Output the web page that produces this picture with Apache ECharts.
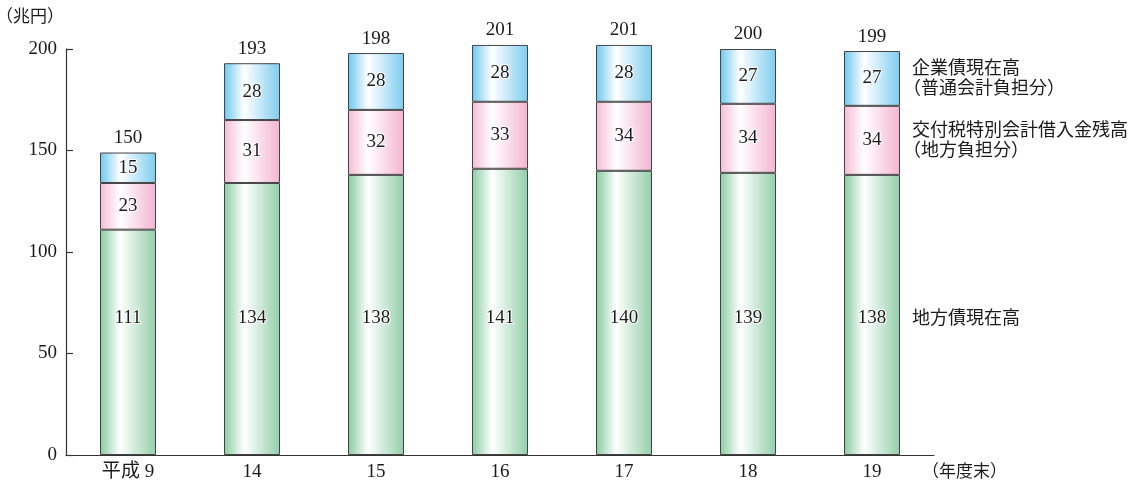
<!DOCTYPE html>
<html>
<head>
<meta charset="utf-8">
<script src="https://cdn.jsdelivr.net/npm/echarts@6/dist/echarts.min.js"></script>
<style>
  html, body { margin: 0; padding: 0; background: #fff; }
  #chart { width: 1140px; height: 480px; }
</style>
</head>
<body>
<div id="chart"></div>
<script>
// 年度末
const years = ['平成 9', '14', '15', '16', '17', '18', '19'];
// 地方債現在高（兆円）
const localBonds = [111, 134, 138, 141, 140, 139, 138];
// 交付税特別会計借入金残高（地方負担分）
const kofuLoans = [23, 31, 32, 33, 34, 34, 34];
// 企業債現在高（普通会計負担分）
const enterpriseBonds = [15, 28, 28, 28, 28, 27, 27];
// 合計（兆円）
const totals = [150, 193, 198, 201, 201, 200, 199];
// y軸目盛
const yTicks = [0, 50, 100, 150, 200];

const seriesNames = ['地方債現在高', '交付税特別会計借入金残高\n（地方負担分）', '企業債現在高\n（普通会計負担分）'];

const serif = '"Liberation Serif", "Noto Sans CJK JP", serif';
const ink = '#1a1a1a';
const numSize = 19;
// 地方債の数値は棒の下端から一定の高さにそろえて表示する
const bottomLabelDistance = 127;

function barFill(edgeL, edgeR) {
  return new echarts.graphic.LinearGradient(0, 0, 1, 0, [
    { offset: 0, color: edgeL },
    { offset: 0.36, color: '#ffffff' },
    { offset: 1, color: edgeR }
  ]);
}

const segLabel = {
  show: true,
  position: 'inside',
  fontFamily: serif,
  fontSize: numSize,
  color: ink,
  textBorderColor: '#fff',
  textBorderWidth: 2
};

const chart = echarts.init(document.getElementById('chart'), null, { renderer: 'canvas' });

const barCommon = { type: 'bar', stack: 'debt', barWidth: 56, clip: false };

const option = {
  animation: false,
  backgroundColor: '#fff',
  grid: { left: 66, right: 206, top: 49, bottom: 25, containLabel: false, outerBoundsMode: 'none' },
  xAxis: {
    type: 'category',
    data: years,
    boundaryGap: true,
    name: '（年度末）',
    nameLocation: 'end',
    nameGap: 0,
    nameTextStyle: {
      fontFamily: serif, fontSize: 17, color: ink,
      align: 'left', verticalAlign: 'top', padding: [9, 0, 0, -12]
    },
    axisLine: { lineStyle: { color: '#333', width: 1.2 } },
    axisTick: { inside: true, length: 7, lineStyle: { color: '#333', width: 1.2 } },
    axisLabel: { fontFamily: serif, fontSize: numSize, color: ink, margin: 8 }
  },
  yAxis: {
    type: 'value',
    min: yTicks[0],
    max: yTicks[yTicks.length - 1],
    interval: yTicks[1] - yTicks[0],
    name: '（兆円）',
    nameLocation: 'end',
    nameGap: 31,
    nameTextStyle: {
      fontFamily: serif, fontSize: 17, color: ink,
      align: 'right', verticalAlign: 'middle', padding: [0, 2, 0, 0]
    },
    axisLine: { show: true, lineStyle: { color: '#333', width: 1.2 } },
    axisTick: { show: true, inside: true, length: 7, lineStyle: { color: '#333', width: 1.2 } },
    splitLine: { show: false },
    axisLabel: { fontFamily: serif, fontSize: numSize, color: ink, margin: 9 }
  },
  series: [
    Object.assign({}, barCommon, {
      name: seriesNames[0],
      data: localBonds,
      itemStyle: { color: barFill('#88cba0', '#92cfa9'), borderColor: '#444', borderWidth: 1 },
      label: Object.assign({}, segLabel, { position: 'insideBottom', distance: bottomLabelDistance })
    }),
    Object.assign({}, barCommon, {
      name: seriesNames[1],
      data: kofuLoans,
      itemStyle: { color: barFill('#f6bcd7', '#f4b4d1'), borderColor: '#444', borderWidth: 1 },
      label: segLabel
    }),
    Object.assign({}, barCommon, {
      name: seriesNames[2],
      data: enterpriseBonds,
      itemStyle: { color: barFill('#6ec8f0', '#7ccdf0'), borderColor: '#444', borderWidth: 1 },
      label: segLabel
    }),
    Object.assign({}, barCommon, {
      // 合計ラベル（積み上げの最上部に表示）
      name: '合計',
      data: totals.map(() => 0),
      itemStyle: { color: 'rgba(0,0,0,0)' },
      label: {
        show: true, position: 'top', distance: 5,
        fontFamily: serif, fontSize: numSize, color: ink,
        formatter: p => String(totals[p.dataIndex])
      },
      silent: true
    })
  ]
};

chart.setOption(option);

// 右端の系列名：最終年度の各区分にそろえる
const last = years.length - 1;
const barRight = chart.convertToPixel({ xAxisIndex: 0 }, years[last]) + 28;
const basePx = chart.convertToPixel({ yAxisIndex: 0 }, 0);
const bases = [0, localBonds[last], localBonds[last] + kofuLoans[last]];
const heights = [localBonds[last], kofuLoans[last], enterpriseBonds[last]];
const graphics = seriesNames.map((name, i) => {
  const mid = i === 0
    ? basePx - bottomLabelDistance - 9
    : chart.convertToPixel({ yAxisIndex: 0 }, bases[i] + heights[i] / 2) + 1;
  const lines = name.split('\n');
  return {
    type: 'group',
    children: lines.map((line, j) => ({
      type: 'text',
      x: barRight + 12 + (line.startsWith('（') ? -9 : 0),
      y: mid + (j - (lines.length - 1) / 2) * 20,
      style: {
        text: line,
        font: '18px ' + serif,
        fill: ink,
        textAlign: 'left',
        textVerticalAlign: 'middle'
      }
    }))
  };
});
chart.setOption({ graphic: graphics });
</script>
</body>
</html>
